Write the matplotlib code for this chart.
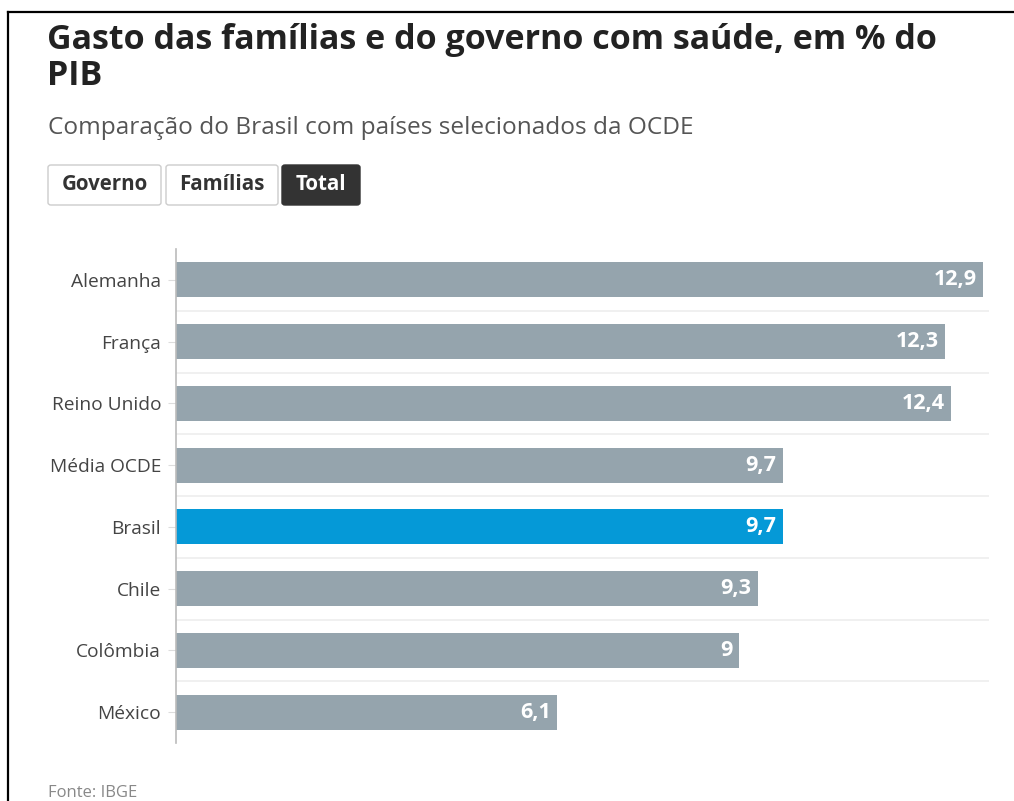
import matplotlib.pyplot as plt
from matplotlib.patches import FancyBboxPatch
from matplotlib.lines import Line2D

# data
paises = ["Alemanha", "França", "Reino Unido", "Média OCDE", "Brasil", "Chile", "Colômbia", "México"]
gasto_total = [12.9, 12.3, 12.4, 9.7, 9.7, 9.3, 9.0, 6.1]
destaque = "Brasil"

plt.rcParams['font.family'] = ['Open Sans', 'DejaVu Sans']

W, H = 1014, 801
fig = plt.figure(figsize=(W / 100, H / 100), dpi=100)

def fx(px):
    return px / W

def fy(py):
    return 1 - py / H

# frame of the screenshot (top and left edges)
fig.add_artist(Line2D([fx(8), 1], [fy(12), fy(12)], color='black', lw=1.6))
fig.add_artist(Line2D([fx(8), fx(8)], [fy(12), 0], color='black', lw=1.6))

# title / subtitle
fig.text(fx(47), fy(40), "Gasto das famílias e do governo com saúde, em % do",
         fontsize=24.5, fontweight='bold', color='#222222', va='center', ha='left')
fig.text(fx(47), fy(76), "PIB",
         fontsize=24.5, fontweight='bold', color='#222222', va='center', ha='left')
fig.text(fx(48), fy(128), "Comparação do Brasil com países selecionados da OCDE",
         fontsize=17.6, color='#555555', va='center', ha='left')

# toggle buttons
botoes = [("Governo", 48, 161, False), ("Famílias", 166, 278, False), ("Total", 282, 360, True)]
for rotulo, x0, x1, ativo in botoes:
    box = FancyBboxPatch((fx(x0), fy(205)), fx(x1 - x0), 40 / H,
                         boxstyle="round,pad=0,rounding_size=0.003",
                         transform=fig.transFigure,
                         facecolor='#333333' if ativo else 'white',
                         edgecolor='#333333' if ativo else '#cccccc', lw=1)
    fig.add_artist(box)
    fig.text(fx((x0 + x1) / 2), fy(185), rotulo, fontsize=14.8, fontweight='bold',
             color='white' if ativo else '#333333', ha='center', va='center')

# bar chart
ax = fig.add_axes([fx(176), fy(743), fx(989 - 176), (743 - 249) / H])
y = list(range(len(paises)))
cores = ['#0599d7' if p == destaque else '#95a4ad' for p in paises]
ax.barh(y, gasto_total, height=0.57, color=cores, zorder=2)

for i, v in enumerate(gasto_total):
    txt = f"{v:g}".replace('.', ',')
    ax.text(v - 0.1, i, txt, color='white', fontweight='bold', fontsize=15.5,
            ha='right', va='center', zorder=3)

ax.set_ylim(len(paises) - 0.5, -0.5)
ax.set_xlim(0, 13.0)
ax.set_yticks(y)
ax.set_yticklabels(paises, fontsize=13.8, color='#444444')
ax.tick_params(axis='y', length=6, color='#dddddd', pad=4.8)
ax.set_xticks([])

# separators between categories
for k in range(len(paises) - 1):
    ax.axhline(k + 0.5, color='#eeeeee', lw=1.2, zorder=1)

for s in ['top', 'right', 'bottom']:
    ax.spines[s].set_visible(False)
ax.spines['left'].set_color('#bbbbbb')
ax.spines['left'].set_linewidth(1.2)

fig.text(fx(48), fy(793), "Fonte: IBGE", fontsize=12, color='#888888', va='center', ha='left')

fig.savefig("out.png", dpi=100)
